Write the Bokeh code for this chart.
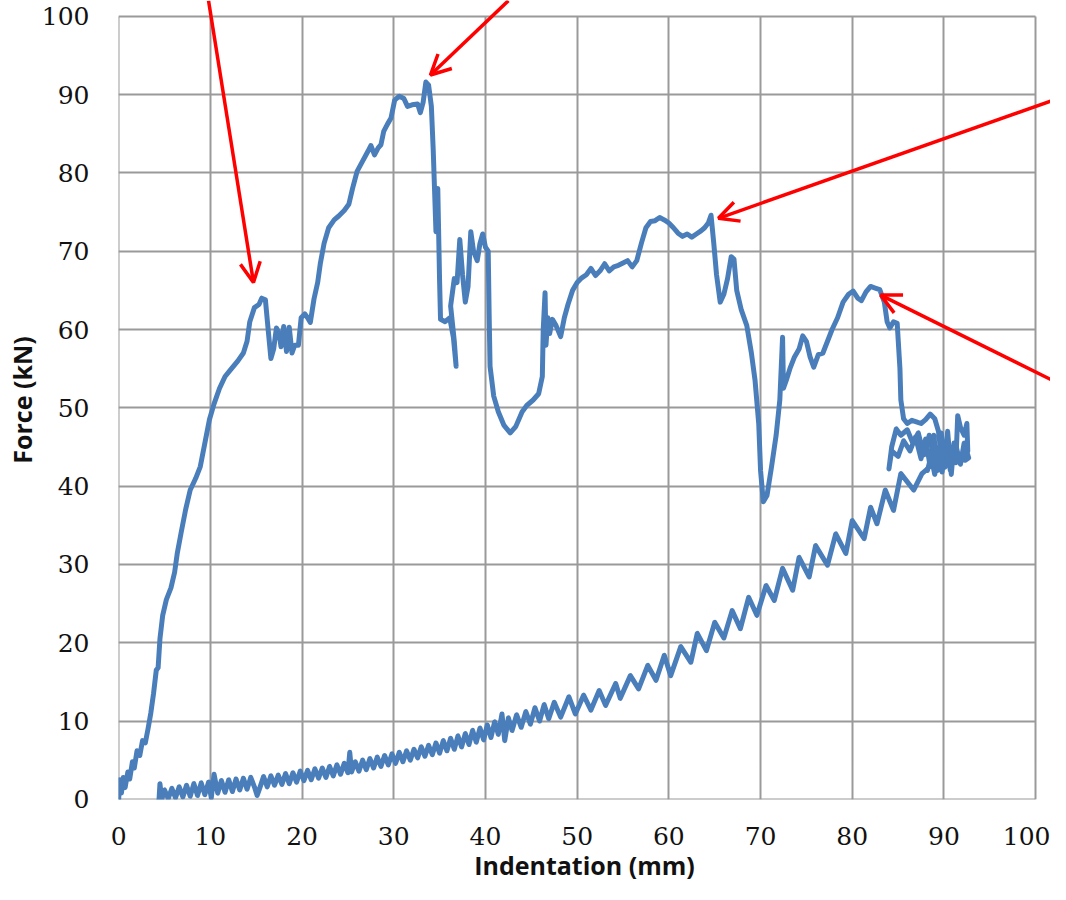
from bokeh.plotting import figure
from bokeh.models import Arrow, OpenHead, FixedTicker, Range1d
from bokeh.embed import file_html
from bokeh.resources import INLINE

# ---------------- data ----------------
loading_x = [0.0, 0.1, 0.3, 0.5, 0.7, 1.0, 1.2, 1.5, 1.7, 2.0, 2.3, 2.6, 2.9, 3.2, 3.5, 3.8, 4.1, 4.3, 4.5,
             4.8, 5.2, 5.7, 6.1, 6.4, 6.8, 7.3, 7.8, 8.4, 8.9, 9.4, 9.9, 10.4, 11.0, 11.6, 12.3, 13.0, 13.6,
             14.0, 14.3, 14.8, 15.3, 15.6, 16.0, 16.3, 16.6, 16.9, 17.2, 17.5, 17.7, 18.0, 18.3, 18.6, 18.9,
             19.2, 19.6, 19.9, 20.3, 20.6, 20.9, 21.3, 21.7, 22.0, 22.4, 22.9, 23.5, 24.0, 24.6, 25.1, 25.5,
             26.0, 26.6, 27.2, 27.5, 27.9, 28.3, 28.6, 28.9, 29.3, 29.7, 30.1, 30.6, 31.1, 31.5, 32.0, 32.6,
             32.9, 33.2, 33.5, 33.8, 34.1, 34.3, 34.5, 34.6, 34.8, 34.9, 35.0, 35.1, 35.6, 36.1, 36.5, 36.8,
             36.6, 36.2, 36.6, 36.9, 37.2, 37.5, 37.8, 38.1, 38.4, 38.7, 39.1, 39.4, 39.7, 40.0, 40.3, 40.4,
             40.5, 40.9, 41.4, 42.0, 42.7, 43.3, 44.0, 44.5, 45.2, 45.8, 46.2, 46.3, 46.5, 46.6, 46.8, 47.0,
             47.3, 47.7, 48.2, 48.6, 49.0, 49.5, 50.0, 50.5, 51.0, 51.5, 52.0, 52.5, 53.0, 53.5, 54.0, 54.5,
             55.0, 55.5, 56.0, 56.5, 57.0, 57.5, 58.0, 58.5, 59.0, 59.5, 60.0, 60.5, 61.0, 61.5, 62.0, 62.5,
             63.0, 63.5, 63.9, 64.3, 64.6, 64.9, 65.2, 65.6, 66.0, 66.4, 66.8, 67.1, 67.4, 67.9, 68.5, 69.0,
             69.4, 69.8, 70.0, 70.3, 70.7, 71.2, 71.7, 72.1, 72.4, 72.5, 72.8, 73.2, 73.7, 74.2, 74.6, 75.0,
             75.4, 75.8, 76.3, 76.8, 77.3, 77.8, 78.4, 79.0, 79.6, 80.1, 80.6, 81.0, 81.5, 82.0, 82.5, 83.0,
             83.5, 83.8, 84.1, 84.5, 84.9, 85.2, 85.3, 85.6, 86.0, 86.5, 87.0, 87.5, 88.0, 88.5, 89.0, 89.4,
             89.6, 89.0, 88.4, 87.8, 87.2, 86.6, 86.0, 85.3, 84.8, 84.3, 84.0, 84.3, 85.0, 85.6, 86.3, 86.9,
             87.5, 88.0, 88.5, 88.9, 89.3, 89.7, 90.1, 90.4, 90.8, 91.1, 91.3, 91.5, 91.8, 92.2, 92.5, 92.6,
             92.3, 92.7, 92.2, 91.8, 91.3, 90.7, 90.2, 89.8, 89.4, 89.0, 88.6, 88.2]
loading_y = [0.0, 2.5, 0.8, 2.8, 1.5, 3.5, 2.6, 4.8, 4.0, 6.2, 5.6, 7.5, 7.2, 9.0, 11.0, 13.5, 16.5, 16.8, 20.5,
             23.5, 25.5, 27.0, 29.0, 31.5, 34.0, 37.0, 39.5, 41.0, 42.5, 45.5, 48.5, 50.5, 52.5, 54.0, 55.0,
             56.0, 57.0, 58.5, 61.0, 62.8, 63.2, 64.0, 63.8, 60.0, 56.3, 57.5, 60.2, 59.5, 57.8, 60.4, 57.2,
             60.3, 57.0, 58.0, 58.0, 61.5, 62.0, 61.5, 60.9, 63.9, 66.0, 68.5, 71.0, 73.0, 74.0, 74.5, 75.2,
             76.0, 78.0, 80.2, 81.5, 82.8, 83.5, 82.3, 83.2, 83.6, 85.3, 86.2, 87.0, 89.3, 89.8, 89.5, 88.5,
             88.7, 88.8, 87.7, 89.0, 91.6, 91.2, 88.5, 83.0, 76.0, 72.5, 78.0, 72.0, 66.0, 61.3, 61.0, 61.5,
             59.0, 55.3, 58.5, 63.0, 66.5, 66.0, 71.5, 67.0, 63.5, 65.5, 72.5, 70.0, 68.8, 71.0, 72.2, 70.5,
             70.0, 62.0, 55.3, 51.5, 49.5, 47.8, 46.8, 47.6, 49.5, 50.3, 51.0, 51.8, 54.0, 60.0, 64.7, 58.0,
             61.5, 59.5, 61.3, 60.5, 59.1, 61.5, 63.2, 65.0, 66.0, 66.6, 67.0, 67.8, 66.9, 67.5, 68.4, 67.5,
             68.0, 68.2, 68.5, 68.8, 68.0, 68.8, 71.0, 73.0, 73.8, 73.9, 74.3, 74.0, 73.6, 73.0, 72.3, 71.9,
             72.2, 71.8, 72.2, 72.6, 73.0, 73.6, 74.6, 71.0, 67.0, 63.5, 64.5, 66.5, 69.3, 69.0, 65.0, 62.5,
             60.5, 57.0, 53.5, 48.0, 42.0, 38.0, 38.8, 42.5, 46.5, 51.0, 59.0, 52.5, 53.5, 55.0, 56.5, 57.5,
             59.2, 58.5, 56.5, 55.2, 56.8, 57.0, 58.5, 60.0, 61.5, 63.5, 64.5, 64.9, 64.0, 63.7, 64.8, 65.5,
             65.3, 65.1, 63.5, 61.0, 60.2, 61.0, 60.8, 55.0, 51.0, 48.6, 48.0, 48.4, 48.2, 48.0, 48.5, 49.2,
             48.6, 47.0, 45.0, 43.5, 46.5, 44.0, 46.8, 45.5, 47.2, 46.5, 47.3, 45.0, 42.2, 44.5, 43.8, 45.8,
             44.5, 46.3, 43.5, 46.0, 42.5, 46.5, 42.0, 46.8, 42.4, 47.0, 41.5, 45.5, 43.0, 49.0, 47.5, 46.5,
             48.0, 44.5, 43.3, 43.6, 45.5, 42.8, 45.2, 42.0, 45.5, 41.8, 44.5, 41.5, 43.8, 42.0]

unloading_x = [88.2, 87.6, 86.7, 85.3, 84.5, 83.6, 82.7, 82.0, 81.3, 80.0, 79.3, 78.2, 77.3, 76.0, 75.3, 74.2,
               73.5, 72.4, 71.5, 70.6, 69.6, 68.7, 67.8, 66.9, 66.0, 65.0, 64.1, 63.1, 62.4, 61.3, 60.2, 59.5,
               58.6, 57.7, 56.7, 55.8, 54.7, 54.2, 53.1, 52.4, 51.5, 50.7, 49.8, 49.1, 48.2, 47.5, 46.9, 46.4,
               45.9, 45.4, 44.9, 44.4, 43.9, 43.4, 42.9, 42.5, 42.1, 41.8, 41.4, 41.0, 40.6, 40.2, 39.8, 39.4,
               39.0, 38.6, 38.2, 37.8, 37.4, 37.0, 36.6, 36.2, 35.8, 35.4, 35.0, 34.6, 34.2, 33.8, 33.4, 33.0,
               32.6, 32.2, 31.8, 31.4, 31.0, 30.6, 30.2, 29.8, 29.4, 29.0, 28.6, 28.2, 27.8, 27.4, 27.0, 26.6,
               26.2, 25.8, 25.4, 25.2, 25.0, 24.6, 24.2, 23.8, 23.4, 23.0, 22.6, 22.2, 21.8, 21.4, 21.0, 20.6,
               20.2, 19.8, 19.4, 19.0, 18.6, 18.2, 17.8, 17.4, 17.0, 16.6, 16.2, 15.8, 15.4, 15.1, 14.8, 14.4,
               14.0, 13.6, 13.2, 12.8, 12.4, 12.0, 11.6, 11.2, 10.8, 10.4, 10.1, 9.8, 9.4, 9.0, 8.6, 8.2, 7.8,
               7.4, 7.0, 6.6, 6.2, 5.8, 5.4, 5.0, 4.7, 4.5, 4.4]
unloading_y = [42.2, 41.6, 39.5, 41.6, 36.9, 39.5, 35.2, 37.3, 33.3, 35.6, 31.4, 33.9, 29.9, 32.4, 28.4, 30.9,
               26.7, 29.5, 25.4, 27.3, 23.5, 25.8, 21.8, 24.1, 20.6, 22.6, 19.0, 21.2, 17.5, 19.5, 15.8, 18.4,
               15.2, 17.1, 14.1, 15.8, 12.9, 14.8, 12.0, 13.9, 11.4, 13.3, 10.9, 13.1, 10.5, 12.4, 10.3, 12.1,
               10.0, 11.7, 9.6, 11.2, 9.2, 10.8, 8.8, 10.4, 7.5, 10.9, 8.3, 9.9, 7.9, 9.5, 7.6, 9.1,
               7.3, 8.8, 7.0, 8.4, 6.7, 8.1, 6.4, 7.8, 6.2, 7.5, 5.9, 7.2, 5.7, 6.9, 5.5, 6.7,
               5.3, 6.4, 5.0, 6.2, 4.8, 6.0, 4.6, 5.8, 4.4, 5.6, 4.2, 5.4, 4.0, 5.2, 3.8, 5.0,
               3.6, 4.8, 3.5, 6.0, 3.4, 4.6, 3.2, 4.4, 3.0, 4.2, 2.8, 4.0, 2.7, 3.9, 2.5, 3.7,
               2.4, 3.6, 2.2, 3.4, 2.0, 3.3, 1.9, 3.1, 1.8, 3.0, 1.6, 2.9, 1.5, 0.5, 1.6, 2.8,
               1.3, 2.7, 1.2, 2.6, 1.0, 2.5, 0.9, 2.4, 0.8, 3.2, 0.2, 2.2, 0.6, 2.1, 0.5, 2.0, 0.4,
               1.8, 0.3, 1.6, 0.2, 1.4, 0.1, 1.2, 0.0, 2.0, 0.0]

x_ticks = [0, 10, 20, 30, 40, 50, 60, 70, 80, 90, 100]
y_ticks = [0, 10, 20, 30, 40, 50, 60, 70, 80, 90, 100]

# annotation arrows: start (x, y) -> tip (x, y), in data units
arrow_x_start = [9.8, 42.5, 103.4, 103.4]
arrow_y_start = [102.0, 102.0, 89.9, 52.6]
arrow_x_end = [14.7, 34.0, 65.4, 83.1]
arrow_y_end = [66.0, 92.5, 74.2, 64.4]

# ---------------- figure ----------------
BLUE = "#4A7EBB"
GRID = "#9a9a9a"

# the frame reaches the top and right canvas edges so the arrows can run off the
# plotted 0..100 box; grid and axes are bounded to 0..100
p = figure(width=1050, height=884, output_backend="svg", toolbar_location=None,
           x_range=Range1d(-0.02, 101.62), y_range=Range1d(-0.02, 102.02),
           min_border_left=118, min_border_right=0, min_border_top=0, min_border_bottom=85,
           background_fill_color="white", border_fill_color="white")

p.outline_line_color = None
for g in (p.xgrid[0], p.ygrid[0]):
    g.grid_line_color = GRID
    g.grid_line_width = 2
    g.bounds = (0, 100)
    g.cross_bounds = (0, 100)

p.xaxis.ticker = FixedTicker(ticks=x_ticks)
p.yaxis.ticker = FixedTicker(ticks=y_ticks)
for ax in (p.xaxis[0], p.yaxis[0]):
    ax.bounds = (0, 100)
    ax.axis_line_color = None
    ax.major_tick_line_color = None
    ax.minor_tick_line_color = None
    ax.major_tick_out = 0
    ax.major_tick_in = 0
    ax.minor_tick_out = 0
    ax.major_label_text_font = "DejaVu Serif"
    ax.major_label_text_font_size = "25px"
    ax.major_label_text_color = "#111111"
    ax.axis_label_text_font = "Open Sans"
    ax.axis_label_text_font_style = "bold"
    ax.axis_label_text_font_size = "25px"
    ax.axis_label_text_color = "#111111"

p.xaxis.major_label_standoff = 27
p.yaxis.major_label_standoff = 29
p.xaxis.axis_label = "Indentation (mm)"
p.yaxis.axis_label = "Force (kN)"
p.xaxis.axis_label_standoff = 0
p.yaxis.axis_label_standoff = 0

p.line(loading_x, loading_y, line_color=BLUE, line_width=5, line_join="round", line_cap="round")
p.line(unloading_x, unloading_y, line_color=BLUE, line_width=5, line_join="round", line_cap="round")

for xs, ys, xe, ye in zip(arrow_x_start, arrow_y_start, arrow_x_end, arrow_y_end):
    p.add_layout(Arrow(end=OpenHead(size=20, line_color="#FF0000", line_width=3.5),
                       x_start=xs, y_start=ys, x_end=xe, y_end=ye,
                       line_color="#FF0000", line_width=3.5))

open("out.html", "w").write(file_html(p, INLINE))
